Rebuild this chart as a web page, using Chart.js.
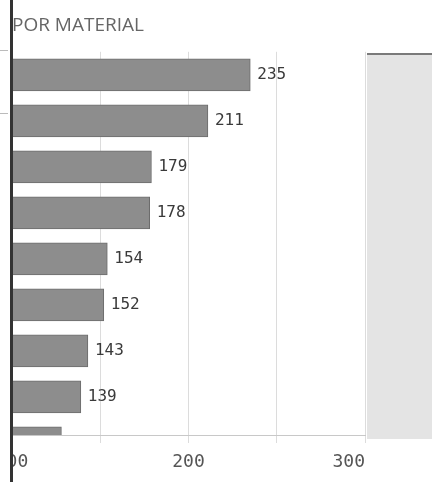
<!DOCTYPE html>
<html>
<head>
<meta charset="utf-8">
<script src="https://cdn.jsdelivr.net/npm/chart.js@4"></script>
<style>
  html, body { margin: 0; padding: 0; background: #fff; }
  #wrap { position: relative; width: 438px; height: 482px; overflow: hidden; }
  #chart { position: absolute; left: 0; top: 0; }
  /* panel vecino a la derecha */
  #panel { position: absolute; left: 367px; top: 53px; width: 65px; height: 384px;
           background: #e4e4e4; border-top: 2px solid #7a7a7a; }
  /* borde izquierdo oscuro */
  #edge { position: absolute; left: 0; top: 0; width: 10px; height: 482px;
          background: #fff; border-right: 3px solid #333; }
  .tick { position: absolute; left: 0; width: 8px; height: 1px; background: #bbb; }
</style>
</head>
<body>
<div id="wrap">
  <canvas id="chart" width="438" height="482"></canvas>
  <div id="panel"></div>
  <div id="edge"></div>
  <div class="tick" style="top:50px"></div>
  <div class="tick" style="top:113px"></div>
</div>
<script>
// datos
const materiales = ['M1', 'M2', 'M3', 'M4', 'M5', 'M6', 'M7', 'M8', 'M9'];
const cantidades = [235, 211, 179, 178, 154, 152, 143, 139, 128];
const ticksEje = [100, 200, 300];

// etiquetas de valor y del eje x
const textoPlugin = {
    id: 'textos',
    afterDatasetsDraw(chart) {
        const ctx = chart.ctx;
        const area = chart.chartArea;
        const meta = chart.getDatasetMeta(0);
        ctx.save();
        ctx.font = '16px "DejaVu Sans Mono"';
        ctx.fillStyle = '#3a3a3a';
        ctx.textBaseline = 'middle';
        ctx.textAlign = 'left';
        meta.data.forEach(function(bar, i) {
            if (bar.y > area.bottom) return;
            ctx.fillText(String(cantidades[i]), bar.x + 7, bar.y);
        });

        // el último rótulo queda alineado a la derecha
        const xs = chart.scales.x;
        ctx.font = '18px "DejaVu Sans Mono"';
        ctx.fillStyle = '#555';
        ticksEje.forEach(function(v, i) {
            ctx.textAlign = i === ticksEje.length - 1 ? 'right' : 'center';
            ctx.fillText(String(v), xs.getPixelForValue(v), area.bottom + 27);
        });
        ctx.restore();
    }
};

const ctx = document.getElementById('chart').getContext('2d');
new Chart(ctx, {
    type: 'bar',
    data: {
        datasets: [{
            label: 'Por material',
            data: cantidades.map((v, i) => ({ x: v, y: i })),
            backgroundColor: '#8d8d8d',
            borderColor: '#6c6c6c',
            borderWidth: 1,
            barThickness: 32
        }]
    },
    options: {
        indexAxis: 'y',
        responsive: false,
        animation: false,
        layout: { padding: { left: 12, right: 73, top: 0, bottom: 39 } },
        plugins: {
            legend: { display: false },
            tooltip: { enabled: false },
            title: {
                display: true,
                text: 'POR MATERIAL',
                align: 'start',
                color: '#666',
                font: { family: 'Open Sans', size: 19, weight: 'normal' },
                padding: { top: 14, bottom: 15 }
            }
        },
        scales: {
            y: {
                type: 'linear',
                display: false,
                offset: false,
                reverse: true,
                min: -0.5,
                max: 7.83
            },
            x: {
                type: 'linear',
                min: 100,
                max: 300,
                grid: { color: '#dcdcdc', tickLength: 8 },
                border: { color: '#c8c8c8' },
                ticks: { stepSize: 50, display: false },
                afterFit(scale) {
                    scale.paddingLeft = 0;
                    scale.paddingRight = 0;
                }
            }
        }
    },
    plugins: [textoPlugin]
});
</script>
</body>
</html>
